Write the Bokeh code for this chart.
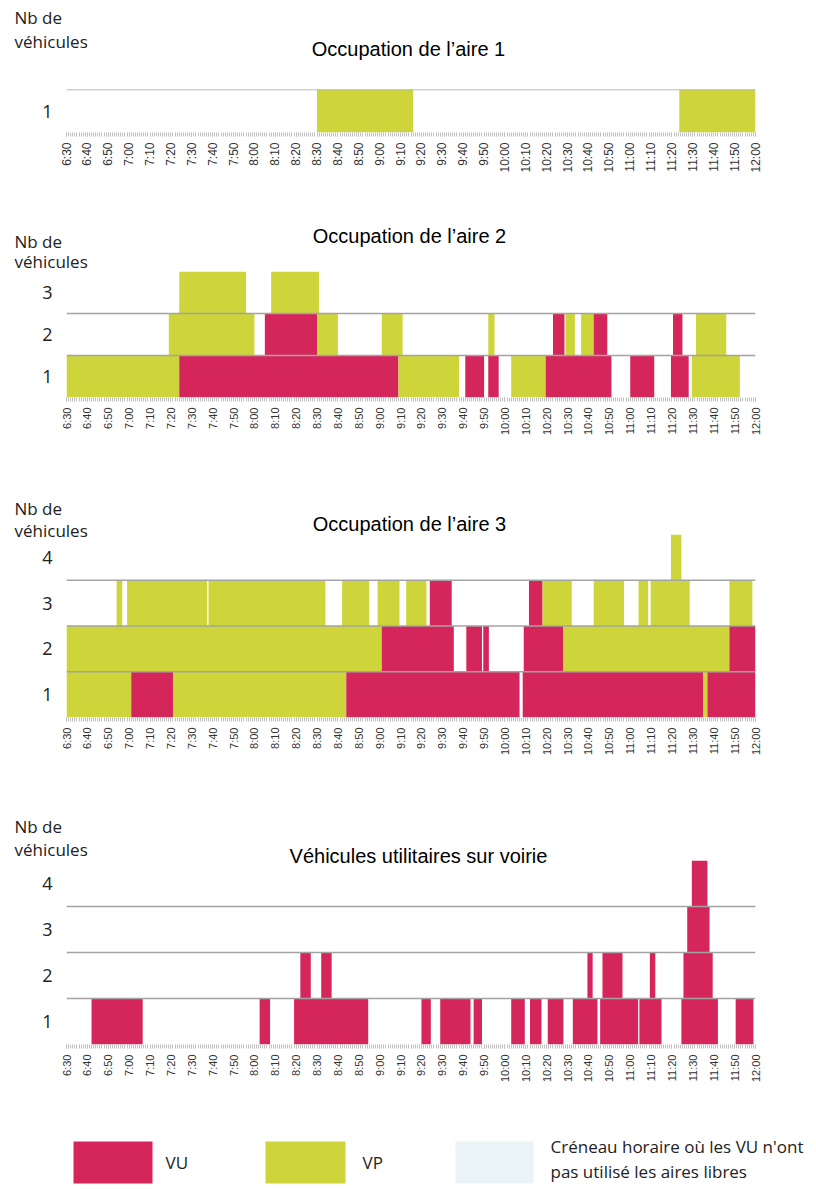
import math
from bokeh.plotting import figure
from bokeh.models import FixedTicker, Span, ColumnDataSource, Range1d
from bokeh.embed import file_html
from bokeh.resources import INLINE
from bokeh.core.properties import value

# ---------------- data ----------------
time_tick_labels = ["6:30", "6:40", "6:50", "7:00", "7:10", "7:20", "7:30", "7:40", "7:50",
                    "8:00", "8:10", "8:20", "8:30", "8:40", "8:50", "9:00", "9:10", "9:20",
                    "9:30", "9:40", "9:50", "10:00", "10:10", "10:20", "10:30", "10:40",
                    "10:50", "11:00", "11:10", "11:20", "11:30", "11:40", "11:50", "12:00"]
y_tick_labels = ["1", "2", "3", "4"]
y_axis_title = ["Nb de", "véhicules"]
panel_titles = ["Occupation de l’aire 1", "Occupation de l’aire 2",
                "Occupation de l’aire 3", "Véhicules utilitaires sur voirie"]

# Aire 1
aire1_start = ["8:30", "11:23.5"]
aire1_end = ["9:16", "12:00"]
aire1_level = [1, 1]
aire1_type = ["VP", "VP"]

# Aire 2
aire2_start = ["6:30", "7:24", "9:09", "9:41", "9:52", "10:03", "10:19.5", "11:00", "11:19.5", "11:29.5",
               "7:19", "8:05", "8:30", "9:01", "9:52", "10:23", "10:29", "10:36.5", "10:42.5", "11:20.5", "11:31.5",
               "7:24", "8:08"]
aire2_end = ["7:24", "9:09", "9:38", "9:50", "9:57", "10:19.5", "10:51", "11:11.5", "11:28", "11:52.5",
             "8:00", "8:30", "8:40", "9:11", "9:55", "10:28.5", "10:33.5", "10:42.5", "10:49", "11:25", "11:46",
             "7:56", "8:31"]
aire2_level = [1, 1, 1, 1, 1, 1, 1, 1, 1, 1,
               2, 2, 2, 2, 2, 2, 2, 2, 2, 2, 2,
               3, 3]
aire2_type = ["VP", "VU", "VP", "VU", "VU", "VP", "VU", "VU", "VU", "VP",
              "VP", "VU", "VP", "VP", "VP", "VU", "VP", "VP", "VU", "VU", "VP",
              "VP", "VP"]

# Aire 3
aire3_start = ["6:30", "7:01", "7:21", "8:44", "10:08.5", "11:35", "11:37",
               "6:30", "9:01", "9:41.5", "9:49.6", "10:09", "10:28", "11:47.5",
               "6:54", "6:59", "7:38", "8:42", "8:59", "9:12.7", "9:24", "10:11.5", "10:18", "10:42.5",
               "11:04", "11:09.8", "11:47.5",
               "11:19.5"]
aire3_end = ["7:01", "7:21", "8:44", "10:07", "11:35", "11:37", "12:00",
             "9:01", "9:35.5", "9:49", "9:52.3", "10:28", "11:47.5", "12:00",
             "6:56.7", "7:37.3", "8:34", "8:55", "9:09.5", "9:22.4", "9:34.5", "10:18", "10:32", "10:57",
             "11:08.6", "11:28.5", "11:58.5",
             "11:24.5"]
aire3_level = [1, 1, 1, 1, 1, 1, 1,
               2, 2, 2, 2, 2, 2, 2,
               3, 3, 3, 3, 3, 3, 3, 3, 3, 3, 3, 3, 3,
               4]
aire3_type = ["VP", "VU", "VP", "VU", "VU", "VP", "VU",
              "VP", "VU", "VU", "VU", "VU", "VP", "VU",
              "VP", "VP", "VP", "VP", "VP", "VP", "VU", "VU", "VP", "VP", "VP", "VP", "VP",
              "VP"]

# Véhicules utilitaires sur voirie
voirie_start = ["6:42", "8:02.5", "8:19", "9:20", "9:29", "9:45", "10:03", "10:12", "10:20.5", "10:32.5",
                "10:45.6", "11:04.4", "11:24.5", "11:50.5",
                "8:22", "8:32", "10:39.5", "10:46.7", "11:09.4", "11:25.5",
                "11:27.3",
                "11:29.5"]
voirie_end = ["7:06.5", "8:07.5", "8:54.5", "9:24.5", "9:43.5", "9:49", "10:09.5", "10:17.5", "10:28", "10:44.3",
              "11:03.8", "11:15", "11:42", "11:59",
              "8:27", "8:37", "10:42", "10:56.3", "11:12", "11:39.5",
              "11:38",
              "11:37"]
voirie_level = [1, 1, 1, 1, 1, 1, 1, 1, 1, 1, 1, 1, 1, 1,
                2, 2, 2, 2, 2, 2,
                3,
                4]
voirie_type = ["VU", "VU", "VU", "VU", "VU", "VU", "VU", "VU", "VU", "VU", "VU", "VU", "VU", "VU",
               "VU", "VU", "VU", "VU", "VU", "VU",
               "VU",
               "VU"]

legend_labels = ["VU", "VP", "Créneau horaire où les VU n'ont", "pas utilisé les aires libres"]

# ---------------- styles ----------------
COLORS = {"VU": "#D5265C", "VP": "#CED53B", "LIBRE": "#EAF4F7"}
SANS = "Open Sans"
ARIAL = "Liberation Sans"
WIDTH = 816
FRAME_LEFT = 66
FRAME_RIGHT = 61
OVERLAP = 14

tick_values = [390 + 10 * i for i in range(len(time_tick_labels))]
minor_values = list(range(390, 721))


def tmin(s):
    h, m = s.split(":")
    return int(h) * 60 + float(m)


def make_header(height, nb_y, veh_y, title, title_x, title_y):
    h = figure(width=WIDTH, height=height, x_range=Range1d(0, WIDTH), y_range=Range1d(0, height),
               output_backend="svg", toolbar_location=None,
               min_border_left=0, min_border_right=0, min_border_top=0, min_border_bottom=0,
               x_axis_location=None, y_axis_location=None)
    h.outline_line_color = None
    h.grid.visible = False
    src = ColumnDataSource(dict(x=[14, 14], y=[nb_y, veh_y], text=y_axis_title))
    h.text(x="x", y="y", text="text", source=src, text_font=value(SANS), text_font_size="17px",
           text_color="#222222", text_baseline="middle", text_align="left")
    h.text(x=[title_x], y=[title_y], text=[title], text_font=value(ARIAL), text_font_size="20px",
           text_color="black", text_baseline="middle", text_align="center")
    return h


def make_panel(starts, ends, levels, types, n_levels, grid_levels, tick_font,
               border_top, frame_h, border_bottom, overlap=0):
    p = figure(width=WIDTH, height=border_top + frame_h + border_bottom,
               x_range=Range1d(390, 720), y_range=Range1d(0, n_levels),
               output_backend="svg", toolbar_location=None,
               min_border_left=FRAME_LEFT, min_border_right=FRAME_RIGHT,
               min_border_top=border_top, min_border_bottom=border_bottom)
    p.outline_line_color = None
    p.grid.visible = False
    p.border_fill_color = None
    p.background_fill_color = None
    if overlap:
        p.styles = {"margin-top": f"-{overlap}px", "position": "relative"}
    src = ColumnDataSource(dict(
        left=[tmin(s) for s in starts],
        right=[tmin(e) for e in ends],
        bottom=[l - 1 for l in levels],
        top=list(levels),
        color=[COLORS[t] for t in types],
    ))
    p.quad(left="left", right="right", bottom="bottom", top="top",
           fill_color="color", line_color=None, source=src)
    for g in grid_levels:
        p.add_layout(Span(location=g, dimension="width", line_color="#a3a3a3", line_width=1.5))

    xa = p.xaxis[0]
    xa.ticker = FixedTicker(ticks=tick_values, minor_ticks=minor_values)
    xa.major_label_overrides = {v: l for v, l in zip(tick_values, time_tick_labels)}
    xa.major_label_orientation = math.pi / 2
    xa.axis_line_color = None
    xa.major_tick_in = 0
    xa.major_tick_out = 4
    xa.minor_tick_in = 0
    xa.minor_tick_out = 4
    xa.major_tick_line_color = "#b0b0b0"
    xa.minor_tick_line_color = "#c0c0c0"
    xa.major_label_standoff = 6
    xa.major_label_text_font = ARIAL
    xa.major_label_text_font_size = tick_font
    xa.major_label_text_color = "#333333"

    ya = p.yaxis[0]
    yt = [i - 0.5 for i in range(1, n_levels + 1)]
    ya.ticker = FixedTicker(ticks=yt, minor_ticks=[])
    ya.major_label_overrides = {v: y_tick_labels[i] for i, v in enumerate(yt)}
    ya.axis_line_color = None
    ya.major_tick_line_color = None
    ya.major_tick_in = 0
    ya.major_tick_out = 0
    ya.minor_tick_line_color = None
    ya.major_label_standoff = 14
    ya.major_label_text_font = SANS
    ya.major_label_text_font_size = "18px"
    ya.major_label_text_color = "#222222"
    return p


h1 = make_header(86, 69, 45, panel_titles[0], 408, 38)
p1 = make_panel(aire1_start, aire1_end, aire1_level, aire1_type, 1, [1], "12px", 3, 43, 58)
h2 = make_header(81 + OVERLAP, 30 + OVERLAP, 10 + OVERLAP, panel_titles[1], 409, 36 + OVERLAP)
p2 = make_panel(aire2_start, aire2_end, aire2_level, aire2_type, 3, [1, 2], "11px", 0, 126, 63, OVERLAP)
h3 = make_header(74 + OVERLAP, 26 + OVERLAP, 4 + OVERLAP, panel_titles[2], 409, 11 + OVERLAP)
p3 = make_panel(aire3_start, aire3_end, aire3_level, aire3_type, 4, [1, 2, 3], "11px", 0, 183, 68, OVERLAP)
h4 = make_header(75 + OVERLAP, 34 + OVERLAP, 11 + OVERLAP, panel_titles[3], 418, 5 + OVERLAP)
p4 = make_panel(voirie_start, voirie_end, voirie_level, voirie_type, 4, [1, 2, 3], "11px", 0, 184, 66, OVERLAP)

# ---------------- legend ----------------
pl = figure(width=WIDTH, height=79, x_range=Range1d(0, WIDTH), y_range=Range1d(0, 79),
            output_backend="svg", toolbar_location=None,
            min_border_left=0, min_border_right=0, min_border_top=0, min_border_bottom=0,
            x_axis_location=None, y_axis_location=None)
pl.outline_line_color = None
pl.grid.visible = False
sw = ColumnDataSource(dict(left=[73, 265, 455], right=[152, 345, 533], bottom=[6, 6, 6], top=[48, 48, 48],
                           color=[COLORS["VU"], COLORS["VP"], COLORS["LIBRE"]]))
pl.quad(left="left", right="right", bottom="bottom", top="top", fill_color="color", line_color=None, source=sw)
lt = ColumnDataSource(dict(x=[165, 362, 550, 550], y=[27, 27, 43, 18], text=legend_labels))
pl.text(x="x", y="y", text="text", source=lt, text_font=value(SANS), text_font_size="17px",
        text_color="#222222", text_baseline="middle", text_align="left")

roots = [h1, p1, h2, p2, h3, p3, h4, p4, pl]
open("out.html", "w").write(file_html(roots, INLINE))
